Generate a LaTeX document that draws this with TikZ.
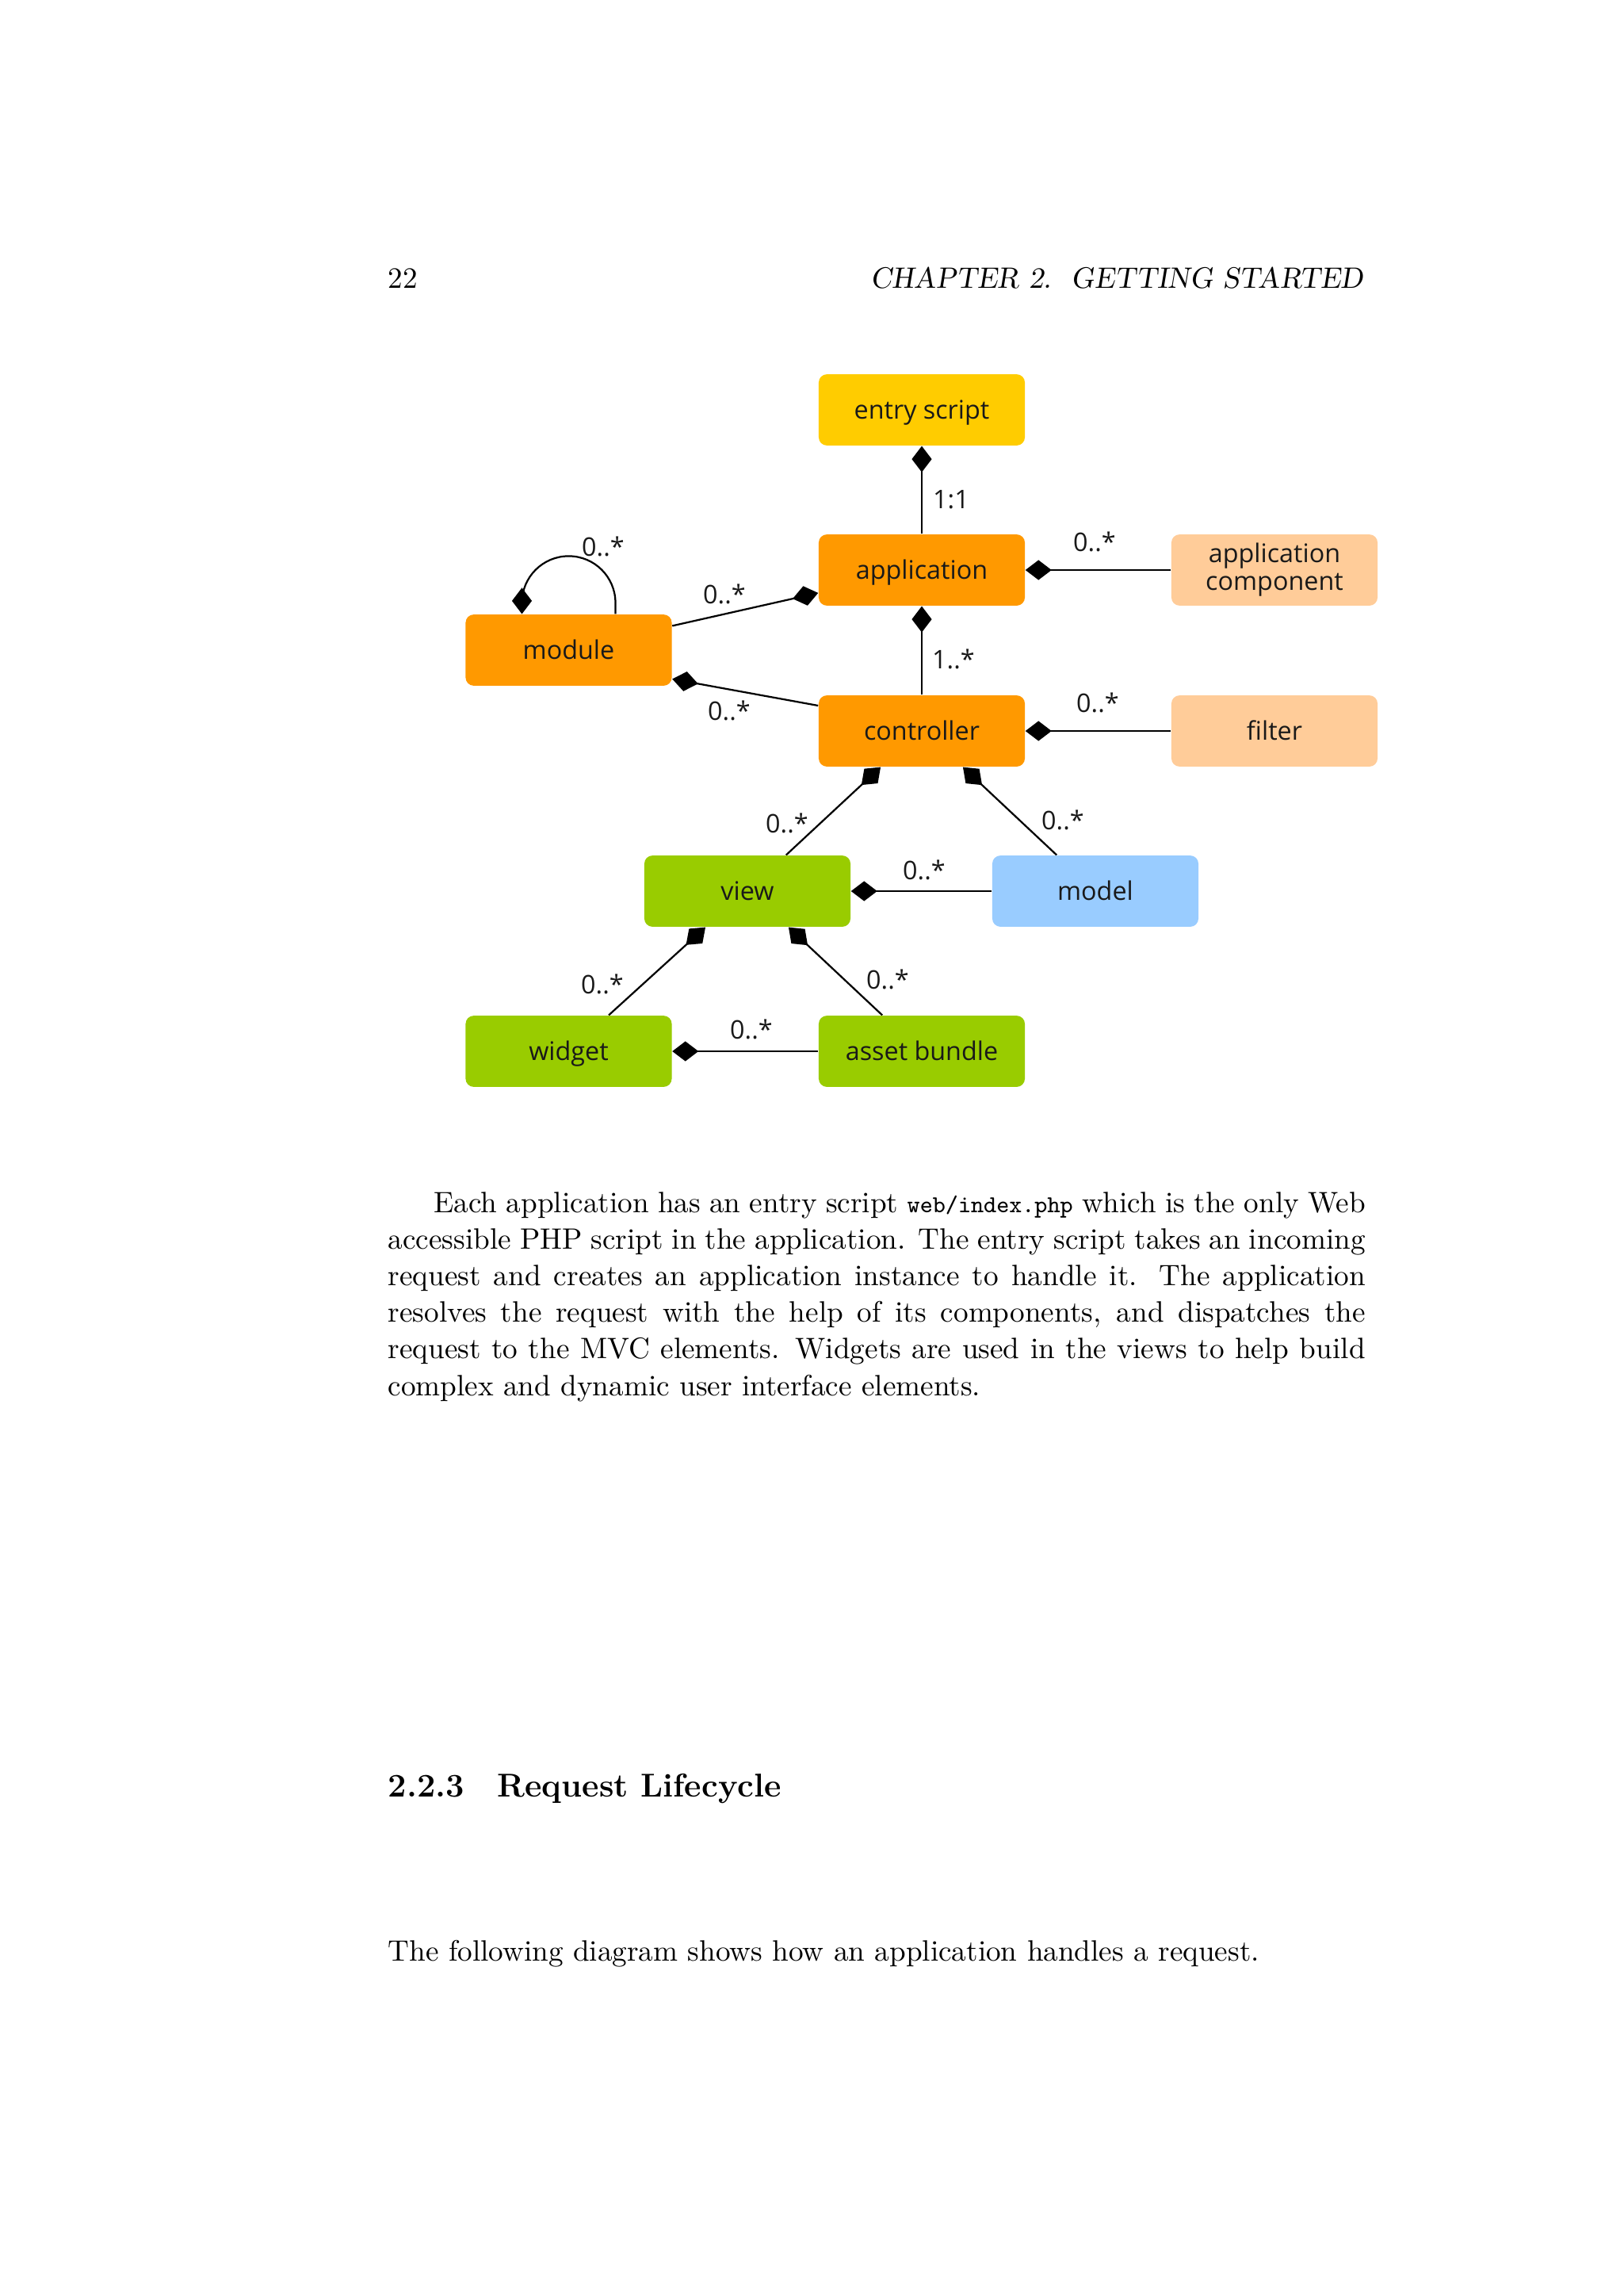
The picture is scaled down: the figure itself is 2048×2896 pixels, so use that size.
\documentclass[tikz,border=0pt]{standalone}
\usepackage{fontspec}
\newfontfamily\diagfont{Open Sans}
\usetikzlibrary{arrows.meta}
\pgfdeclarelayer{background}
\pgfsetlayers{background,main}
\definecolor{cYellow}{RGB}{255,204,0}
\definecolor{cOrange}{RGB}{255,153,0}
\definecolor{cPeach}{RGB}{255,204,153}
\definecolor{cGreen}{RGB}{153,204,0}
\definecolor{cBlue}{RGB}{153,204,255}
\definecolor{cText}{RGB}{25,25,25}
\begin{document}
\begin{tikzpicture}[x=0.290664pt, y=-0.290664pt,
  cls/.style={rounded corners=3pt, minimum width=75.6pt, minimum height=26.1pt, inner sep=0pt,
    font=\diagfont\fontsize{9.4}{10.2}\selectfont, text=cText, align=center},
  oneline/.style={text height=6.4pt, text depth=0pt},
  comp/.style={line width=0.65pt, -{Diamond[length=9.6pt,width=7.3pt]}},
  mult/.style={font=\diagfont\fontsize{9.4}{10}\selectfont, inner sep=0pt, text=cText},
  body/.style={font=\fontsize{10.81}{13.43}\selectfont, inner sep=0pt}
]
\useasboundingbox (0,0) rectangle (2048,2896);

% boxes
\node[cls, oneline, fill=cYellow] (entry) at (1163,517) {entry script};
\node[cls, oneline, fill=cOrange] (application) at (1163,719) {application};
\node[cls, fill=cPeach] (appcomp) at (1608,719) {application\\component};
\node[cls, oneline, fill=cOrange] (module) at (717.5,820) {module};
\node[cls, oneline, fill=cOrange] (controller) at (1163,922) {controller};
\node[cls, oneline, fill=cPeach] (filter) at (1608,922) {filter};
\node[cls, oneline, fill=cGreen] (view) at (943,1124) {view};
\node[cls, oneline, fill=cBlue] (model) at (1382,1124) {model};
\node[cls, oneline, fill=cGreen] (widget) at (717.5,1326) {widget};
\node[cls, oneline, fill=cGreen] (asset) at (1163,1326) {asset bundle};

\begin{pgfonlayer}{background}
\fill[white] (0,0) rectangle (2048,2896);
\draw[comp] (application.north) -- (entry.south);
\draw[comp] (appcomp.west) -- (application.east);
\draw[comp] ([yshift=8.9pt]module.east) -- ([yshift=-8.4pt]application.west);
\draw[comp] ([xshift=17.15pt]module.north) -- ++(0,-14) arc[start angle=0, end angle=-180, radius=59] -- ([xshift=-17.15pt]module.north);
\draw[comp] (controller.north) -- (application.south);
\draw[comp] ([yshift=9.3pt]controller.west) -- ([yshift=-10.6pt]module.east);
\draw[comp] (filter.west) -- (controller.east);
\draw[comp] ([xshift=14.2pt]view.north) -- ([xshift=-15.1pt]controller.south);
\draw[comp] ([xshift=-14.2pt]model.north) -- ([xshift=15.1pt]controller.south);
\draw[comp] (model.west) -- (view.east);
\draw[comp] ([xshift=14.7pt]widget.north) -- ([xshift=-15.4pt]view.south);
\draw[comp] ([xshift=-14.5pt]asset.north) -- ([xshift=15.1pt]view.south);
\draw[comp] (asset.west) -- (widget.east);
\end{pgfonlayer}

% multiplicities
\node[mult] (m1) at (1200,630) {1:1};
\node[mult] (m2) at (1381,683) {0..*};
\node[mult] (m3) at (761,689) {0..*};
\node[mult] (m4) at (914,749) {0..*};
\node[mult] (m5) at (1203,831) {1..*};
\node[mult] (m6) at (920,896) {0..*};
\node[mult] (m7) at (1385,886) {0..*};
\node[mult] (m8) at (993,1038) {0..*};
\node[mult] (m9) at (1341,1034) {0..*};
\node[mult] (m10) at (1166,1097) {0..*};
\node[mult] (m11) at (760,1241) {0..*};
\node[mult] (m12) at (1120,1235) {0..*};
\node[mult] (m13) at (948,1298) {0..*};

% page text
\node[body, anchor=base west] (pnum) at (489,363) {22};
\node[body, anchor=base east] (head) at (1721,363) {\slshape CHAPTER 2.\ \ GETTING STARTED};
\node[body, anchor=base west, text width=358.4pt, align=justify] (para) at (489,1529)
 {\hspace*{16.8pt}Each application has an entry script {\fontsize{8.9}{11}\ttfamily web/index.php} which is the only Web\linebreak
 accessible PHP script in the application. The entry script takes an incoming\linebreak
 request and creates an application instance to handle it.  The application\linebreak
 resolves the request with the help of its components, and dispatches the\linebreak
 request to the MVC elements. Widgets are used in the views to help build\linebreak
 complex and dynamic user interface elements.};
\node[inner sep=0pt, anchor=base west, font=\fontsize{12.1}{14}\selectfont\bfseries] (sec) at (489,2266) {2.2.3\quad Request Lifecycle};
\node[body, anchor=base west] (last) at (489,2473) {The following diagram shows how an application handles a request.};
\end{tikzpicture}
\end{document}
